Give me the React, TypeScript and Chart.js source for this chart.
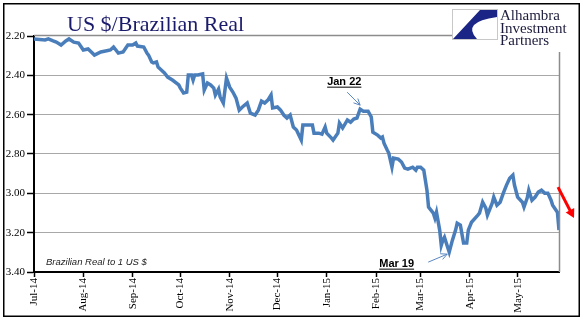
import { useEffect, useRef } from "react";
import { Chart, registerables } from "chart.js";

Chart.register(...registerables);

// days since 1 Jul 2014
const dayOffsets = [
  0, 7, 9, 12, 14, 17, 20, 22, 25, 28,
  31, 34, 36, 38, 42, 45, 48, 50, 53, 56,
  59, 62, 64, 65, 69, 71, 72, 74, 75, 77,
  78, 80, 82, 84, 87, 91, 92, 94, 96, 97,
  99, 100, 101, 103, 106, 107, 109, 111, 113, 114,
  116, 117, 119, 121, 123, 125, 127, 129, 131, 134,
  136, 139, 141, 143, 145, 147, 149, 150, 153, 155,
  157, 159, 161, 163, 165, 168, 169, 172, 175, 176,
  179, 181, 183, 184, 187, 188, 191, 192, 194, 197,
  199, 201, 203, 205, 207, 210, 212, 213, 216, 218,
  219, 220, 222, 223, 225, 226, 229, 231, 233, 235,
  238, 240, 241, 243, 245, 247, 248, 251, 252, 253,
  255, 256, 257, 258, 260, 261, 263, 265, 266, 268,
  270, 272, 273, 275, 279, 280, 282, 284, 285, 288,
  289, 291, 293, 295, 297, 299, 301, 302, 304, 307,
  308, 310, 311, 313, 315, 317, 319, 321, 323, 325,
  326, 329, 330,
];

const brlPerUsd = [
  2.215, 2.22, 2.215, 2.225, 2.231, 2.246, 2.225, 2.215, 2.231, 2.236,
  2.271, 2.266, 2.281, 2.297, 2.281, 2.276, 2.271, 2.256, 2.287, 2.281,
  2.246, 2.246, 2.236, 2.251, 2.256, 2.287, 2.297, 2.332, 2.337, 2.332,
  2.358, 2.373, 2.388, 2.409, 2.424, 2.449, 2.465, 2.49, 2.485, 2.398,
  2.398, 2.424, 2.398, 2.398, 2.393, 2.475, 2.439, 2.449, 2.465, 2.5,
  2.47, 2.51, 2.541, 2.414, 2.46, 2.485, 2.516, 2.577, 2.561, 2.541,
  2.592, 2.602, 2.577, 2.531, 2.541, 2.526, 2.5, 2.566, 2.561, 2.577,
  2.602, 2.617, 2.602, 2.663, 2.678, 2.729, 2.653, 2.653, 2.653, 2.694,
  2.694, 2.699, 2.663, 2.694, 2.719, 2.729, 2.694, 2.643, 2.668, 2.627,
  2.638, 2.622, 2.617, 2.572, 2.582, 2.582, 2.612, 2.689, 2.704, 2.719,
  2.714, 2.745, 2.78, 2.795, 2.867, 2.821, 2.826, 2.841, 2.872, 2.877,
  2.867, 2.882, 2.867, 2.867, 2.882, 2.984, 3.07, 3.101, 3.126, 3.096,
  3.187, 3.264, 3.238, 3.223, 3.274, 3.299, 3.238, 3.187, 3.152, 3.162,
  3.253, 3.253, 3.187, 3.147, 3.111, 3.101, 3.045, 3.075, 3.111, 3.05,
  3.019, 3.06, 3.045, 2.999, 2.958, 2.923, 2.907, 2.958, 3.019, 3.045,
  3.07, 3.024, 2.984, 3.035, 3.019, 2.994, 2.984, 2.999, 2.999, 3.035,
  3.06, 3.096, 3.187,
];

const monthTickDays = [0, 31, 62, 92, 123, 153, 184, 215, 243, 274, 304];
const monthTickLabels = [
  "Jul-14", "Aug-14", "Sep-14", "Oct-14", "Nov-14", "Dec-14",
  "Jan-15", "Feb-15", "Mar-15", "Apr-15", "May-15",
];
const yMin = 2.2;
const yMax = 3.4;
const yStep = 0.2;

const chartTitle = "US $/Brazilian Real";
const logoLines = ["Alhambra", "Investment", "Partners"];
const noteText = "Brazilian Real to 1 US $";
const callouts = [
  { label: "Jan 22", day: 205, value: 2.572 },
  { label: "Mar 19", day: 261, value: 3.299 },
];

function openArrow(ctx: CanvasRenderingContext2D, x1: number, y1: number, x2: number, y2: number) {
  const a = Math.atan2(y2 - y1, x2 - x1);
  ctx.beginPath();
  ctx.moveTo(x1, y1);
  ctx.lineTo(x2, y2);
  ctx.moveTo(x2 - 7 * Math.cos(a - 0.45), y2 - 7 * Math.sin(a - 0.45));
  ctx.lineTo(x2, y2);
  ctx.lineTo(x2 - 7 * Math.cos(a + 0.45), y2 - 7 * Math.sin(a + 0.45));
  ctx.stroke();
}

const decorPlugin = {
  id: "decor",
  afterDraw(chart: any) {
    const ctx: CanvasRenderingContext2D = chart.ctx;
    const { left, right, top, bottom } = chart.chartArea;
    const xs = chart.scales.x;
    const ys = chart.scales.y;
    ctx.save();

    // plot frame (gray top + right)
    ctx.strokeStyle = "#8c8c8c";
    ctx.lineWidth = 1.5;
    ctx.beginPath();
    ctx.moveTo(left, top - 0.5);
    ctx.lineTo(452, top - 0.5);
    ctx.moveTo(right + 0.5, 52);
    ctx.lineTo(right + 0.5, bottom);
    ctx.stroke();

    // title
    ctx.fillStyle = "#1b1b6b";
    ctx.font = '22px "Liberation Serif"';
    ctx.textBaseline = "alphabetic";
    ctx.textAlign = "left";
    ctx.fillText(chartTitle, 67, 31);

    // logo
    ctx.fillStyle = "#ffffff";
    ctx.fillRect(452, 9, 45, 30);
    ctx.strokeStyle = "#c8c8c8";
    ctx.lineWidth = 1;
    ctx.strokeRect(452.5, 9.5, 45, 30);
    ctx.fillStyle = "#1a2585";
    ctx.beginPath();
    ctx.moveTo(480, 10);
    ctx.lineTo(497, 10);
    ctx.lineTo(497, 17);
    ctx.quadraticCurveTo(461, 22, 477, 39);
    ctx.lineTo(453, 39);
    ctx.closePath();
    ctx.fill();
    ctx.fillStyle = "#1c1c3c";
    ctx.font = '15px "Liberation Serif"';
    logoLines.forEach((t, i) => ctx.fillText(t, 500, 20 + i * 12.5));

    // note
    ctx.fillStyle = "#222222";
    ctx.font = 'italic 9.5px "Liberation Sans"';
    ctx.fillText(noteText, left + 12, bottom - 7);

    // callouts
    ctx.font = 'bold 11px "Liberation Sans"';
    const c1 = callouts[0];
    const p1x = xs.getPixelForValue(c1.day);
    const p1y = ys.getPixelForValue(c1.value);
    ctx.fillStyle = "#000";
    ctx.fillText(c1.label, p1x - 33, p1y - 24);
    let w = ctx.measureText(c1.label).width;
    ctx.fillRect(p1x - 33, p1y - 22.5, w, 1);
    ctx.strokeStyle = "#5a86c0";
    ctx.lineWidth = 1;
    openArrow(ctx, p1x - 13, p1y - 17, p1x, p1y - 4);

    const c2 = callouts[1];
    const p2x = xs.getPixelForValue(c2.day);
    const p2y = ys.getPixelForValue(c2.value);
    ctx.fillStyle = "#000";
    ctx.fillText(c2.label, p2x - 70, p2y + 15);
    w = ctx.measureText(c2.label).width;
    ctx.fillRect(p2x - 70, p2y + 16.5, w, 1);
    openArrow(ctx, p2x - 21, p2y + 10, p2x - 2, p2y + 2);

    // red arrow
    const ex = xs.getPixelForValue(dayOffsets[dayOffsets.length - 1]);
    const ey = ys.getPixelForValue(brlPerUsd[brlPerUsd.length - 1]);
    const sx = ex - 1, sy = ey - 43, tx = ex + 15, ty = ey - 12;
    const a = Math.atan2(ty - sy, tx - sx);
    ctx.strokeStyle = "#ff0000";
    ctx.fillStyle = "#ff0000";
    ctx.lineWidth = 3;
    ctx.beginPath();
    ctx.moveTo(sx, sy);
    ctx.lineTo(tx - 6 * Math.cos(a), ty - 6 * Math.sin(a));
    ctx.stroke();
    ctx.beginPath();
    ctx.moveTo(tx, ty);
    ctx.lineTo(tx - 10 * Math.cos(a - 0.5), ty - 10 * Math.sin(a - 0.5));
    ctx.lineTo(tx - 10 * Math.cos(a + 0.5), ty - 10 * Math.sin(a + 0.5));
    ctx.closePath();
    ctx.fill();

    // outer black frame
    ctx.strokeStyle = "#000";
    ctx.lineWidth = 1.5;
    ctx.strokeRect(3.75, 3.75, 575.5, 312.5);
    ctx.restore();
  },
};

export default function App() {
  const ref = useRef<HTMLCanvasElement | null>(null);
  useEffect(() => {
    if (!ref.current) return;
    const points = dayOffsets.map((d, i) => ({ x: d, y: brlPerUsd[i] }));
    const chart = new Chart(ref.current, {
      type: "line",
      data: {
        datasets: [
          {
            data: points,
            borderColor: "#4a7ebb",
            borderWidth: 3.5,
            pointRadius: 0,
            tension: 0,
            fill: false,
          },
        ],
      },
      options: {
        responsive: false,
        animation: false,
        devicePixelRatio: 1,
        layout: { padding: { left: 0, right: 29, top: 36, bottom: 0 } },
        plugins: { legend: { display: false }, title: { display: false }, tooltip: { enabled: false } },
        scales: {
          x: {
            type: "linear",
            min: 0,
            max: dayOffsets[dayOffsets.length - 1],
            afterBuildTicks: (scale: any) => {
              scale.ticks = monthTickDays.map((v) => ({ value: v }));
            },
            afterFit: (scale: any) => {
              scale.height = 49;
            },
            border: { display: true, color: "#000", width: 2 },
            grid: {
              drawOnChartArea: false,
              drawTicks: true,
              tickLength: 5,
              tickColor: "#000",
              tickWidth: 1.5,
            },
            ticks: {
              autoSkip: false,
              maxRotation: 90,
              minRotation: 90,
              padding: 1,
              color: "#000",
              font: { family: '"Liberation Serif"', size: 11 },
              callback: (v: any) => {
                const i = monthTickDays.indexOf(Number(v));
                return i >= 0 ? monthTickLabels[i] : "";
              },
            },
          },
          y: {
            reverse: true,
            min: yMin,
            max: yMax,
            afterFit: (scale: any) => {
              scale.width = 34;
            },
            border: { display: true, color: "#000", width: 2 },
            grid: {
              color: (c: any) => {
                const v = c.tick ? c.tick.value : 0;
                if (Math.abs(v - yMin) < 1e-6 || Math.abs(v - yMax) < 1e-6) return "rgba(0,0,0,0)";
                return "#a8a8a8";
              },
              lineWidth: 1,
              borderDash: [2, 2],
              tickLength: 7,
              tickColor: "#000",
              tickWidth: 1.5,
              tickBorderDash: [],
            },
            ticks: {
              stepSize: yStep,
              padding: 2,
              color: "#000",
              font: { family: '"Liberation Serif"', size: 11 },
              callback: (v: any) => Number(v).toFixed(2),
            },
          },
        },
      },
      plugins: [decorPlugin],
    });
    return () => chart.destroy();
  }, []);

  return (
    <div style={{ position: "absolute", left: 0, top: 0, width: 588, height: 321, background: "#fff" }}>
      <canvas ref={ref} width={588} height={321} style={{ display: "block" }} />
    </div>
  );
}
